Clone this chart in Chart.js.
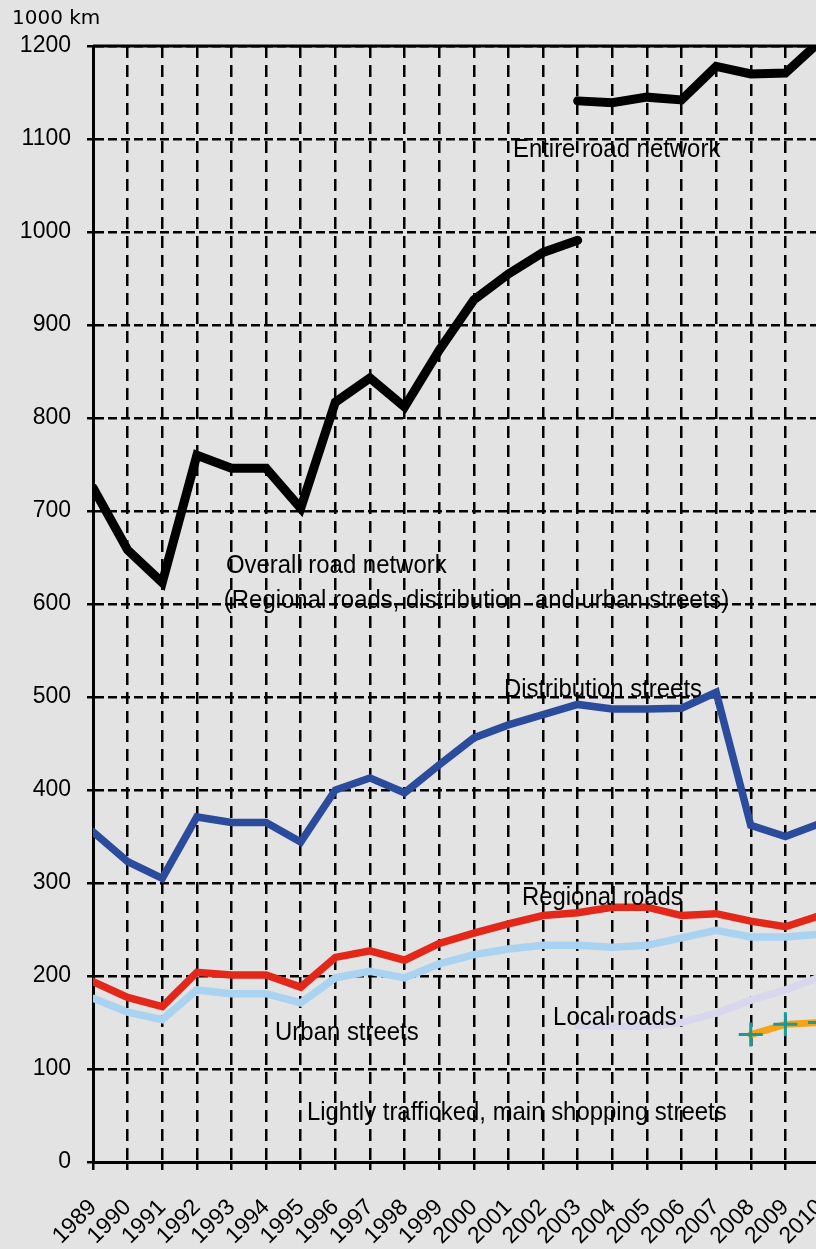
<!DOCTYPE html>
<html>
<head>
<meta charset="utf-8">
<title>Road network length</title>
<script src="https://cdn.jsdelivr.net/npm/chart.js@4.4.0/dist/chart.umd.min.js"></script>
<style>
  html, body { margin: 0; padding: 0; background: #e3e3e3; overflow: hidden; }
  #wrap { position: relative; width: 840px; height: 1249px; }
</style>
</head>
<body>
<div id="wrap"><canvas id="roadChart" width="840" height="1249"></canvas></div>
<script>
'use strict';

// categories (x axis tick labels)
var years = ['1989', '1990', '1991', '1992', '1993', '1994', '1995', '1996', '1997', '1998', '1999',
             '2000', '2001', '2002', '2003', '2004', '2005', '2006', '2007', '2008', '2009', '2010'];

// series, 1000 km
var overallNetwork = [725, 658, 623, 760, 746, 746, 703, 817, 843, 812, 873, 927, 955, 978, 991,
                      null, null, null, null, null, null, null];
var entireNetwork = [null, null, null, null, null, null, null, null, null, null, null, null, null, null,
                     1141, 1139, 1145, 1142, 1178, 1170, 1171, 1205];
var distributionStreets = [355, 323, 305, 371, 365, 365, 344, 400, 413, 397, 427, 456, 470, 481, 492,
                           487, 487, 488, 505, 362, 350, 364];
var regionalRoads = [194, 177, 167, 204, 201, 201, 188, 220, 227, 217, 235, 246, 256, 265, 268,
                     274, 274, 265, 267, 259, 253, 265];
var urbanStreets = [176, 161, 153, 185, 181, 181, 171, 198, 205, 198, 213, 223, 229, 233, 233,
                    231, 233, 241, 249, 242, 242, 245];
var localRoads = [null, null, null, null, null, null, null, null, null, null, null, null, null, null,
                  147, 146, 146, 150, 160, 174, 185, 199];
var shoppingStreets = [null, null, null, null, null, null, null, null, null, null, null, null, null, null,
                       null, null, null, null, null, 137, 148, 150];

// y axis
var yTickValues = [0, 100, 200, 300, 400, 500, 600, 700, 800, 900, 1000, 1100, 1200];

// in-plot captions, anchored in data units (x = year index, y = 1000 km)
var captions = [
    {text: 'Entire road network', x: 12.13, y: 1081},
    {text: 'Overall road network', x: 3.84, y: 633},
    {text: '(Regional roads, distribution  and urban streets)', x: 3.78, y: 596},
    {text: 'Distribution streets', x: 11.87, y: 500},
    {text: 'Regional roads', x: 12.39, y: 276},
    {text: 'Urban streets', x: 5.26, y: 131},
    {text: 'Local roads', x: 13.29, y: 147},
    {text: 'Lightly trafficked, main shopping streets', x: 6.18, y: 45}
];

var TICK_FONT = '"Liberation Sans", Arial, sans-serif';

var captionPlugin = {
    id: 'captions',
    beforeDatasetsDraw: function (chart) {
        // solid frame line on top of the plot
        var a = chart.chartArea, ctx = chart.ctx;
        ctx.save();
        ctx.strokeStyle = '#000';
        ctx.lineWidth = 3;
        ctx.beginPath();
        ctx.moveTo(a.left, a.top);
        ctx.lineTo(a.right, a.top);
        ctx.stroke();
        ctx.restore();
    },
    afterDatasetsDraw: function (chart) {
        var ctx = chart.ctx;
        var xs = chart.scales.x;
        var ys = chart.scales.y;
        ctx.save();
        ctx.fillStyle = '#000';
        ctx.font = '26px "Liberation Sans", Arial, sans-serif';
        ctx.textBaseline = 'alphabetic';
        ctx.textAlign = 'left';
        captions.forEach(function (c) {
            ctx.save();
            ctx.translate(xs.getPixelForValue(c.x), ys.getPixelForValue(c.y));
            ctx.scale(0.92, 1);
            ctx.fillText(c.text, 0, 0);
            ctx.restore();
        });
        ctx.restore();
    }
};

function lineSet(label, data, color, width) {
    return {
        label: label,
        data: data,
        borderColor: color,
        backgroundColor: color,
        borderWidth: width,
        borderCapStyle: 'round',
        borderJoinStyle: 'miter',
        pointRadius: 0,
        tension: 0,
        spanGaps: false,
        clip: 0
    };
}

var shopping = lineSet('Lightly trafficked, main shopping streets', shoppingStreets, '#f6a417', 7);
shopping.pointStyle = 'cross';
shopping.pointRadius = 12;
shopping.pointBorderWidth = 3;
shopping.pointBorderColor = '#18999a';

var datasets = [
    shopping,
    lineSet('Local roads', localRoads, '#d9d7ee', 7.5),
    lineSet('Regional roads', regionalRoads, '#e3281a', 7.5),
    lineSet('Urban streets', urbanStreets, '#a9d3f1', 7.5),
    lineSet('Distribution streets', distributionStreets, '#2b4c9c', 7.5),
    lineSet('Overall road network', overallNetwork, '#000000', 9),
    lineSet('Entire road network', entireNetwork, '#000000', 9)
];

var ctx = document.getElementById('roadChart').getContext('2d');
var roadChart = new Chart(ctx, {
    type: 'line',
    data: {labels: years, datasets: datasets},
    plugins: [captionPlugin],
    options: {
        responsive: false,
        animation: false,
        layout: {padding: {left: 12, right: 20, top: 0, bottom: 0}},
        plugins: {
            legend: {display: false},
            tooltip: {enabled: false},
            title: {
                display: true,
                text: '1000 km',
                align: 'start',
                color: '#000',
                font: {family: '"DejaVu Sans", sans-serif', size: 20, weight: 'normal', lineHeight: 1},
                padding: {top: 9, bottom: 17}
            }
        },
        scales: {
            x: {
                type: 'category',
                offset: false,
                afterFit: function (scale) {
                    scale.height = 87;
                    // the plot runs off the right edge, so no room is kept for the last label
                    scale.paddingRight = 0;
                },
                grid: {
                    color: '#000',
                    lineWidth: 2.5,
                    tickLength: 8,
                    tickWidth: 2.5,
                    tickColor: '#000'
                },
                border: {display: true, color: '#000', width: 3, dash: [12, 7]},
                ticks: {
                    color: '#000',
                    font: {family: TICK_FONT, size: 23},
                    autoSkip: false,
                    maxRotation: 45,
                    minRotation: 45,
                    padding: 24
                }
            },
            y: {
                min: 0,
                max: 1200,
                afterFit: function (scale) { scale.width = 81; },
                afterBuildTicks: function (scale) {
                    scale.ticks = yTickValues.map(function (v) { return {value: v}; });
                },
                grid: {
                    color: '#000',
                    lineWidth: 2.5,
                    tickLength: 6,
                    tickWidth: 2.5,
                    tickColor: '#000'
                },
                border: {display: true, color: '#000', width: 3, dash: [9, 4]},
                ticks: {
                    color: '#000',
                    font: {family: TICK_FONT, size: 23},
                    padding: 16,
                    callback: function (value) { return String(value); }
                }
            }
        }
    }
});
</script>
</body>
</html>
